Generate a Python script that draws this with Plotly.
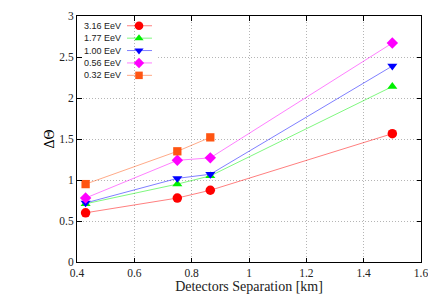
import plotly.graph_objects as go

separation_km = [0.43, 0.75, 0.865, 1.5]
labels = ["3.16 EeV", "1.77 EeV", "1.00 EeV", "0.56 EeV", "0.32 EeV"]
dtheta_316 = [0.60, 0.78, 0.875, 1.565]
dtheta_177 = [0.71, 0.95, 1.05, 2.14]
dtheta_100 = [0.72, 1.02, 1.07, 2.39]
dtheta_056 = [0.78, 1.24, 1.27, 2.67]
dtheta_032 = [0.95, 1.35, 1.52]

series = [dtheta_316, dtheta_177, dtheta_100, dtheta_056, dtheta_032]
colors = ["#ff0000", "#00f000", "#0000ff", "#ff00ff", "#ff5512"]
line_colors = ["rgba(255,0,0,0.5)", "rgba(0,240,0,0.5)", "rgba(0,0,255,0.5)",
               "rgba(255,0,255,0.5)", "rgba(255,85,18,0.5)"]
symbols = ["circle", "triangle-up", "triangle-down", "diamond", "square"]
sizes = [9.5, 8.8, 8.8, 8.8, 8.3]

serif = "Liberation Serif, Times New Roman, serif"
sans = "Liberation Sans, Arial, sans-serif"

fig = go.Figure()
for vals, c, lc, s, sz, lab in zip(series, colors, line_colors, symbols, sizes, labels):
    fig.add_trace(go.Scatter(
        x=separation_km[:len(vals)], y=vals, mode="lines+markers", name=lab,
        line=dict(color=lc, width=1),
        marker=dict(color=c, symbol=s, size=sz, line=dict(width=0)),
        showlegend=False))

# custom gnuplot-style key (text left, sample right) on a hidden pixel-space overlay axis
row0, step = 20, 12.7
for i, (c, lc, s, sz, lab) in enumerate(zip(colors, line_colors, symbols, sizes, labels)):
    yy = row0 + step * i
    fig.add_trace(go.Scatter(x=[127, 152], y=[yy, yy], mode="lines",
                             line=dict(color=lc, width=1), xaxis="x2", yaxis="y2",
                             showlegend=False, hoverinfo="skip"))
    fig.add_trace(go.Scatter(x=[139], y=[yy], mode="markers",
                             marker=dict(color=c, symbol=s, size=sz - 0.8, line=dict(width=0)),
                             xaxis="x2", yaxis="y2", showlegend=False, hoverinfo="skip"))
    fig.add_annotation(x=123, y=yy, xref="x2", yref="y2", text=lab, showarrow=False,
                       xanchor="right", yanchor="middle",
                       font=dict(family=sans, size=9, color="#222"))

# y-axis title
fig.add_annotation(x=-0.1076, y=0.5, xref="paper", yref="paper", text="ΔΘ", textangle=-90,
                   showarrow=False, font=dict(family=serif, size=14, color="black"))

# key box hides the horizontal grid line
for x0, x1 in [(0.401, 0.5935), (0.6045, 0.6755)]:
    fig.add_shape(type="rect", xref="x", yref="y", x0=x0, x1=x1, y0=2.45, y1=2.54,
                  fillcolor="white", line=dict(width=0), layer="between")

axis_common = dict(showline=True, linecolor="black", linewidth=1, mirror="ticks",
                   ticks="inside", ticklen=4.5, tickcolor="black", tickwidth=1,
                   showgrid=True, gridcolor="#b5b5b5", gridwidth=1, griddash="1px,2px",
                   zeroline=False, ticklabeloverflow="allow",
                   tickfont=dict(family=serif, size=11.5, color="#222"))

# page body has an 8px default margin: figure is sized/offset to compensate
fig.update_layout(
    width=428, height=297,
    margin=dict(l=69, r=15, t=2, b=43),
    paper_bgcolor="white", plot_bgcolor="white",
    xaxis=dict(range=[0.4, 1.6], dtick=0.2, tickformat="~g",
               title=dict(text="Detectors Separation [km]", standoff=2,
                          font=dict(family=serif, size=14, color="#222")),
               **axis_common),
    yaxis=dict(range=[0, 3], dtick=0.5, tickformat="~g", **axis_common),
    xaxis2=dict(range=[77, 421], overlaying="x", visible=False, fixedrange=True),
    yaxis2=dict(range=[262, 10], overlaying="y", visible=False, fixedrange=True),
    showlegend=False,
)

fig.write_html("out.html")
